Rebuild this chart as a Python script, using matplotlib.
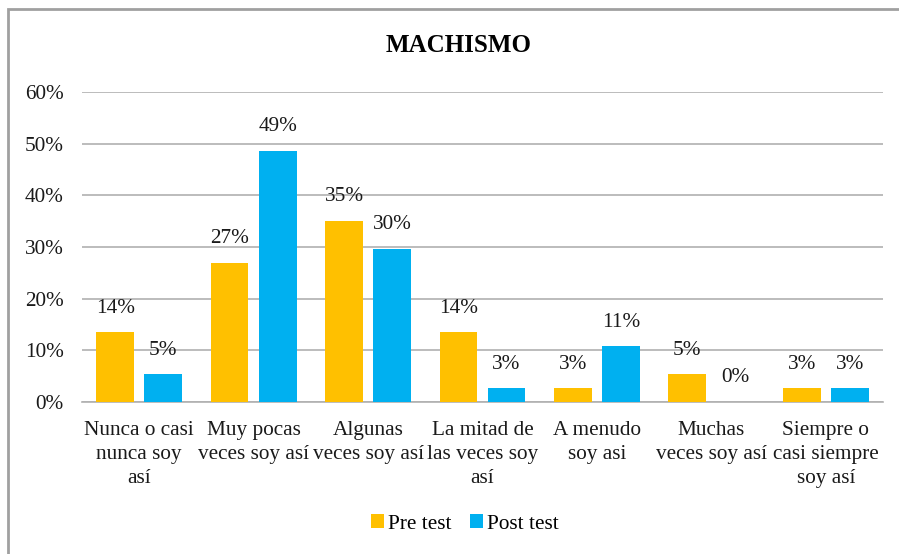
import matplotlib
matplotlib.use("Agg")
import matplotlib.pyplot as plt
import numpy as np
from matplotlib.patches import Rectangle

plt.rcParams['font.family'] = ['Liberation Serif', 'DejaVu Serif']

categories = ["Nunca o casi\nnunca soy\nasí", "Muy pocas\nveces soy así", "Algunas\nveces soy así",
              "La mitad de\nlas veces soy\nasí", "A menudo\nsoy asi", "Muchas\nveces soy así",
              "Siempre o\ncasi siempre\nsoy así"]
pre_test = [13.5, 27.0, 35.1, 13.5, 2.7, 5.4, 2.7]
post_test = [5.4, 48.6, 29.7, 2.7, 10.8, 0.0, 2.7]
pre_labels = ["14%", "27%", "35%", "14%", "3%", "5%", "3%"]
post_labels = ["5%", "49%", "30%", "3%", "11%", "0%", "3%"]
yticks = [0, 10, 20, 30, 40, 50, 60]
ytick_labels = ["0%", "10%", "20%", "30%", "40%", "50%", "60%"]

FS = 15.3
W, H = 899, 554
fig = plt.figure(figsize=(W/100, H/100), dpi=100)
ax = fig.add_axes([82/W, 1-402/H, (883-82)/W, (402-92)/H])

x = np.arange(len(categories))
bw = 0.33
off = 0.21
b1 = ax.bar(x - off, pre_test, bw, color="#FFC000", label="Pre test", zorder=3)
b2 = ax.bar(x + off, post_test, bw, color="#00B0F0", label="Post test", zorder=3)

for xi, v, lab in zip(x - off, pre_test, pre_labels):
    ax.annotate(lab, (xi, v), xytext=(0, 24), textcoords="offset pixels",
                ha="center", va="center", fontsize=FS, color="#1a1a1a", zorder=4)
for xi, v, lab in zip(x + off, post_test, post_labels):
    ax.annotate(lab, (xi, v), xytext=(0, 24), textcoords="offset pixels",
                ha="center", va="center", fontsize=FS, color="#1a1a1a", zorder=4)

ax.set_xlim(-0.5, len(categories) - 0.5)
ax.set_ylim(0, 60)
ax.set_yticks(yticks)
ax.set_yticklabels(ytick_labels, fontsize=FS, color="#1a1a1a")
ax.set_xticks(x)
ax.set_xticklabels(categories, fontsize=FS, color="#1a1a1a")
ax.tick_params(axis="y", length=0, pad=13)
ax.tick_params(axis="x", length=0, pad=13.5)
for t in ax.xaxis.get_major_ticks():
    t.label1.set_linespacing(1.38)
ax.yaxis.grid(True, color="#B0B0B0", linewidth=1.2, zorder=0)
for s in ["top", "right", "left"]:
    ax.spines[s].set_visible(False)
ax.spines["bottom"].set_color("#B0B0B0")
ax.spines["bottom"].set_linewidth(1.2)

fig.text(459/W, 1-46/H, "MACHISMO", ha="center", va="center", fontsize=18, fontweight="bold")

leg = fig.legend(handles=[b1, b2], labels=["Pre test", "Post test"], loc="center",
                 bbox_to_anchor=(465/W, 1-524/H), ncol=2, frameon=False, fontsize=FS,
                 handlelength=0.6, handleheight=0.6, handletextpad=0.2, columnspacing=0.9)

border = Rectangle((8/W, -0.1), 1.2, 1 - 9/H + 0.1, transform=fig.transFigure,
                   fill=False, edgecolor="#A0A0A0", linewidth=2)
fig.patches.append(border)

fig.savefig("out.png", dpi=100)
